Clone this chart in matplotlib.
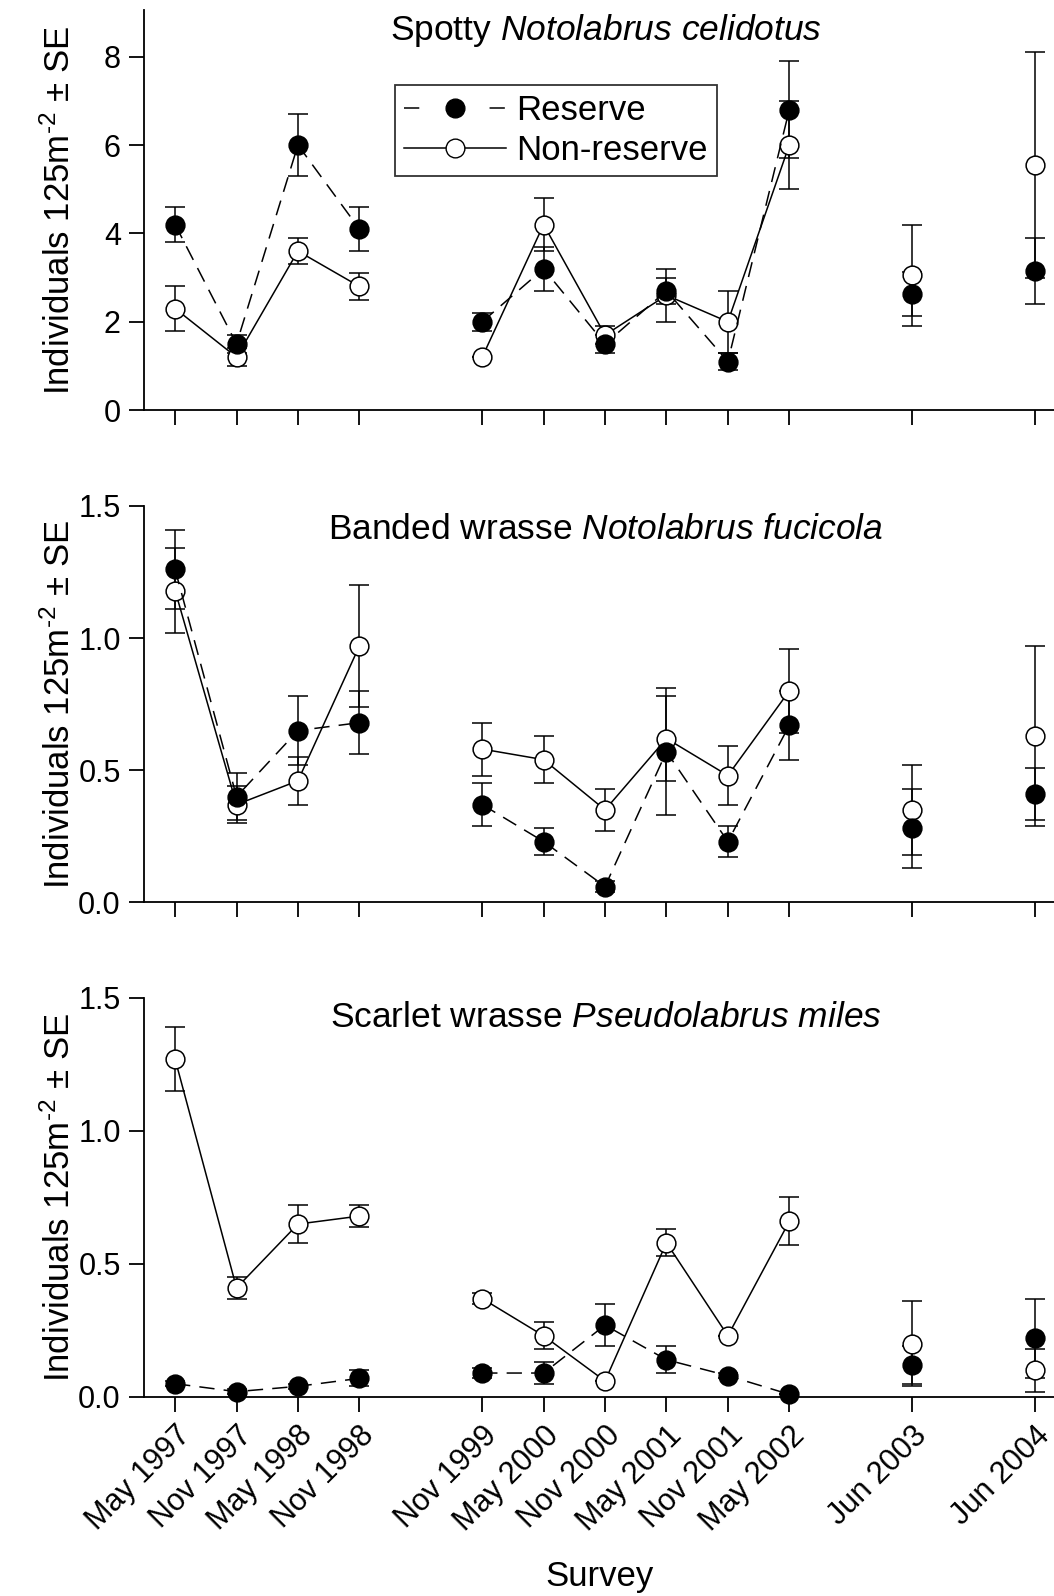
import numpy as np
import matplotlib
matplotlib.use("Agg")
import matplotlib.pyplot as plt
from matplotlib.lines import Line2D

plt.rcParams["font.family"] = ["Liberation Sans", "DejaVu Sans"]
plt.rcParams["mathtext.fontset"] = "custom"
plt.rcParams["mathtext.rm"] = "Liberation Sans"
plt.rcParams["mathtext.it"] = "Liberation Sans:italic"

# survey labels and positions (in half-year steps from May 1997)
surveys = ["May 1997", "Nov 1997", "May 1998", "Nov 1998", "Nov 1999", "May 2000",
           "Nov 2000", "May 2001", "Nov 2001", "May 2002", "Jun 2003", "Jun 2004"]
survey_pos = [0, 1, 2, 3, 5, 6, 7, 8, 9, 10, 12, 14]
# groups of points joined by lines
segments = [[0, 1, 2, 3], [4, 5, 6, 7, 8, 9], [10], [11]]

# Spotty
spotty_res = [4.2, 1.5, 6.0, 4.1, 2.0, 3.2, 1.5, 2.7, 1.1, 6.8, 2.63, 3.15]
spotty_res_se = [0.4, 0.2, 0.7, 0.5, 0.2, 0.5, 0.2, 0.3, 0.2, 1.1, 0.5, 0.75]
spotty_non = [2.3, 1.2, 3.6, 2.8, 1.2, 4.2, 1.7, 2.6, 2.0, 6.0, 3.05, 5.55]
spotty_non_se = [0.5, 0.2, 0.3, 0.3, 0.0, 0.6, 0.2, 0.6, 0.7, 1.0, 1.15, 2.55]

# Banded wrasse
banded_res = [1.26, 0.40, 0.65, 0.68, 0.37, 0.23, 0.06, 0.57, 0.23, 0.67, 0.28, 0.41]
banded_res_se = [0.15, 0.09, 0.13, 0.12, 0.08, 0.05, 0.02, 0.24, 0.06, 0.13, 0.15, 0.10]
banded_non = [1.18, 0.37, 0.46, 0.97, 0.58, 0.54, 0.35, 0.62, 0.48, 0.80, 0.35, 0.63]
banded_non_se = [0.16, 0.07, 0.09, 0.23, 0.10, 0.09, 0.08, 0.16, 0.11, 0.16, 0.17, 0.34]

# Scarlet wrasse
scarlet_res = [0.05, 0.02, 0.04, 0.07, 0.09, 0.09, 0.27, 0.14, 0.08, 0.01, 0.12, 0.22]
scarlet_res_se = [0.01, 0.01, 0.01, 0.03, 0.02, 0.04, 0.08, 0.05, 0.01, 0.0, 0.07, 0.15]
scarlet_non = [1.27, 0.41, 0.65, 0.68, 0.37, 0.23, 0.06, 0.58, 0.23, 0.66, 0.20, 0.10]
scarlet_non_se = [0.12, 0.04, 0.07, 0.04, 0.02, 0.05, 0.0, 0.05, 0.0, 0.09, 0.16, 0.08]

panels = [
    ("Spotty $\\mathit{Notolabrus\\ celidotus}$", spotty_res, spotty_res_se,
     spotty_non, spotty_non_se, [0, 2, 4, 6, 8], ["0", "2", "4", "6", "8"], 9.05, 0.949),
    ("Banded wrasse $\\mathit{Notolabrus\\ fucicola}$", banded_res, banded_res_se,
     banded_non, banded_non_se, [0, 0.5, 1.0, 1.5], ["0.0", "0.5", "1.0", "1.5"], 1.5, 0.941),
    ("Scarlet wrasse $\\mathit{Pseudolabrus\\ miles}$", scarlet_res, scarlet_res_se,
     scarlet_non, scarlet_non_se, [0, 0.5, 1.0, 1.5], ["0.0", "0.5", "1.0", "1.5"], 1.5, 0.951),
]

boxes = [[0.137, 0.743, 0.863, 0.2506],
         [0.137, 0.4346, 0.863, 0.2484],
         [0.137, 0.1247, 0.863, 0.25]]

fig = plt.figure(figsize=(10.54, 15.96), dpi=100)

ms = 13.5
lw = 1.1
dash = (0, (10, 6))
x = np.array(survey_pos)
ylab = "Individuals 125m$^{\\text{-}2}$ \u00b1 SE"

for i, (title, res, res_se, non, non_se, yt, ytl, ytop, ty) in enumerate(panels):
    ax = fig.add_axes(boxes[i])
    res = np.array(res)
    non = np.array(non)
    # error bars
    ax.errorbar(x, non, yerr=non_se, fmt="none", ecolor="black",
                elinewidth=lw, capsize=7, capthick=lw, zorder=2)
    ax.errorbar(x, res, yerr=res_se, fmt="none", ecolor="black",
                elinewidth=lw, capsize=7, capthick=lw, zorder=2)
    for seg in segments:
        ax.plot(x[seg], non[seg], color="black", lw=lw, linestyle="-",
                marker="o", ms=ms, mfc="white", mec="black", mew=lw, zorder=3)
        ax.plot(x[seg], res[seg], color="black", lw=lw, linestyle=dash,
                marker="o", ms=ms, mfc="black", mec="black", mew=lw, zorder=4)

    ax.set_xlim(-0.5, 14.31)
    ax.set_ylim(0, ytop)
    ax.set_yticks(yt)
    ax.set_yticklabels(ytl)
    ax.set_xticks(survey_pos)
    if i == 2:
        ax.set_xticklabels(surveys, rotation=45, ha="right", rotation_mode="anchor")
        ax.set_xlabel("Survey", fontsize=25, labelpad=17)
    else:
        ax.set_xticklabels([])
    ax.tick_params(axis="both", direction="out", length=11, width=1.3,
                   labelsize=22, color="black", pad=6)
    for s in ["top", "right"]:
        ax.spines[s].set_visible(False)
    for s in ["left", "bottom"]:
        ax.spines[s].set_linewidth(1.3)
    ax.set_ylabel(ylab, fontsize=25)
    ax.yaxis.set_label_coords(-0.074, 0.5)
    ax.text(0.507, ty, title, transform=ax.transAxes, ha="center",
            va="center", fontsize=25.5)
    for c in ax.get_children():
        if isinstance(c, Line2D):
            c.set_clip_on(False)

    if i == 0:
        h_res = Line2D([], [], color="black", lw=lw, linestyle=(0, (10, 46)),
                       marker="o", ms=ms, mfc="black", mec="black")
        h_non = Line2D([], [], color="black", lw=lw, linestyle="-", marker="o",
                       ms=ms, mfc="white", mec="black")
        leg = ax.legend([h_res, h_non], ["Reserve", "Non-reserve"],
                        loc="upper left", bbox_to_anchor=(0.2754, 0.813),
                        fontsize=25, frameon=True, fancybox=False,
                        edgecolor="black", handlelength=2.95, handletextpad=0.3,
                        borderpad=0.25, labelspacing=0.22, borderaxespad=0)
        leg.get_frame().set_linewidth(1.3)

fig.savefig("out.png", dpi=100)
